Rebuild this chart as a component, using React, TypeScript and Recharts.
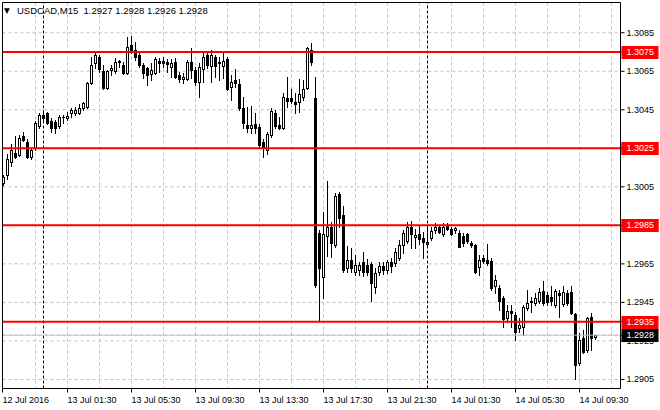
import React from 'react';
import { ComposedChart, Bar, XAxis, YAxis, CartesianGrid, ReferenceLine } from 'recharts';

// USDCAD M15, 12 Jul 21:30 .. 14 Jul 10:30, one entry per bar
const opens = [
  1.30070, 1.30111, 1.30180, 1.30227, 1.30215, 1.30314, 1.30284, 1.30203, 1.30250, 1.30366,
  1.30406, 1.30432, 1.30393, 1.30388, 1.30366, 1.30411, 1.30406, 1.30432, 1.30432, 1.30432,
  1.30457, 1.30463, 1.30587, 1.30691, 1.30725, 1.30653, 1.30561, 1.30656, 1.30651, 1.30699,
  1.30682, 1.30642, 1.30786, 1.30760, 1.30734, 1.30682, 1.30667, 1.30636, 1.30642, 1.30703,
  1.30703, 1.30698, 1.30673, 1.30699, 1.30630, 1.30608, 1.30608, 1.30699, 1.30656, 1.30596,
  1.30660, 1.30734, 1.30677, 1.30725, 1.30691, 1.30677, 1.30712, 1.30567, 1.30604, 1.30584,
  1.30457, 1.30371, 1.30354, 1.30376, 1.30362, 1.30284, 1.30241, 1.30319, 1.30432, 1.30371,
  1.30357, 1.30509, 1.30509, 1.30492, 1.30492, 1.30518, 1.30561, 1.30760, 1.30509, 1.29812,
  1.29583, 1.29794, 1.29843, 1.29748, 1.30013, 1.29903, 1.29628, 1.29670, 1.29608, 1.29618,
  1.29659, 1.29644, 1.29649, 1.29531, 1.29608, 1.29639, 1.29618, 1.29659, 1.29654, 1.29680,
  1.29748, 1.29770, 1.29843, 1.29788, 1.29805, 1.29782, 1.29753, 1.29782, 1.29826, 1.29843,
  1.29805, 1.29846, 1.29832, 1.29826, 1.29812, 1.29794, 1.29805, 1.29760, 1.29748, 1.29635,
  1.29679, 1.29670, 1.29666, 1.29535, 1.29523, 1.29471, 1.29367, 1.29407, 1.29384, 1.29315,
  1.29323, 1.29419, 1.29452, 1.29448, 1.29459, 1.29510, 1.29488, 1.29479, 1.29436, 1.29500,
  1.29441, 1.29500, 1.29505, 1.29390, 1.29134, 1.29263, 1.29203, 1.29372, 1.29270,
];

const highs = [
  1.30111, 1.30220, 1.30272, 1.30314, 1.30319, 1.30336, 1.30297, 1.30250, 1.30392, 1.30432,
  1.30449, 1.30438, 1.30407, 1.30397, 1.30423, 1.30423, 1.30438, 1.30457, 1.30466, 1.30480,
  1.30492, 1.30594, 1.30722, 1.30743, 1.30734, 1.30682, 1.30656, 1.30682, 1.30717, 1.30708,
  1.30699, 1.30829, 1.30833, 1.30803, 1.30743, 1.30691, 1.30673, 1.30691, 1.30722, 1.30717,
  1.30725, 1.30712, 1.30712, 1.30717, 1.30648, 1.30642, 1.30708, 1.30769, 1.30673, 1.30691,
  1.30751, 1.30751, 1.30760, 1.30734, 1.30725, 1.30751, 1.30722, 1.30630, 1.30660, 1.30608,
  1.30515, 1.30466, 1.30469, 1.30432, 1.30376, 1.30298, 1.30334, 1.30457, 1.30449, 1.30414,
  1.30537, 1.30618, 1.30556, 1.30535, 1.30611, 1.30604, 1.30777, 1.30795, 1.30618, 1.29826,
  1.29921, 1.30082, 1.29869, 1.30016, 1.30024, 1.29950, 1.29742, 1.29732, 1.29696, 1.29659,
  1.29711, 1.29675, 1.29659, 1.29628, 1.29659, 1.29659, 1.29670, 1.29680, 1.29732, 1.29774,
  1.29826, 1.29869, 1.29874, 1.29829, 1.29846, 1.29817, 1.29843, 1.29843, 1.29860, 1.29852,
  1.29860, 1.29860, 1.29843, 1.29843, 1.29826, 1.29808, 1.29812, 1.29770, 1.29753, 1.29696,
  1.29696, 1.29753, 1.29680, 1.29592, 1.29540, 1.29483, 1.29436, 1.29436, 1.29401, 1.29367,
  1.29436, 1.29514, 1.29479, 1.29497, 1.29523, 1.29562, 1.29505, 1.29535, 1.29518, 1.29514,
  1.29535, 1.29514, 1.29535, 1.29393, 1.29289, 1.29306, 1.29375, 1.29396, 1.29280,
];

const lows = [
  1.30059, 1.30089, 1.30158, 1.30199, 1.30210, 1.30288, 1.30198, 1.30193, 1.30241, 1.30354,
  1.30397, 1.30376, 1.30336, 1.30331, 1.30354, 1.30380, 1.30397, 1.30414, 1.30423, 1.30428,
  1.30449, 1.30457, 1.30584, 1.30665, 1.30648, 1.30556, 1.30556, 1.30630, 1.30639, 1.30673,
  1.30636, 1.30636, 1.30743, 1.30708, 1.30673, 1.30613, 1.30578, 1.30604, 1.30636, 1.30648,
  1.30673, 1.30648, 1.30622, 1.30613, 1.30596, 1.30587, 1.30604, 1.30613, 1.30578, 1.30518,
  1.30596, 1.30665, 1.30596, 1.30618, 1.30604, 1.30613, 1.30552, 1.30501, 1.30570, 1.30449,
  1.30354, 1.30336, 1.30328, 1.30328, 1.30257, 1.30206, 1.30220, 1.30310, 1.30354, 1.30348,
  1.30348, 1.30463, 1.30487, 1.30435, 1.30440, 1.30501, 1.30556, 1.30682, 1.29530, 1.29355,
  1.29471, 1.29691, 1.29687, 1.29737, 1.29843, 1.29608, 1.29608, 1.29608, 1.29592, 1.29592,
  1.29587, 1.29592, 1.29459, 1.29500, 1.29592, 1.29597, 1.29602, 1.29608, 1.29639, 1.29670,
  1.29706, 1.29757, 1.29730, 1.29730, 1.29753, 1.29679, 1.29742, 1.29774, 1.29808, 1.29808,
  1.29794, 1.29826, 1.29800, 1.29808, 1.29737, 1.29742, 1.29757, 1.29739, 1.29602, 1.29592,
  1.29653, 1.29644, 1.29514, 1.29497, 1.29410, 1.29320, 1.29350, 1.29323, 1.29255, 1.29298,
  1.29280, 1.29410, 1.29401, 1.29436, 1.29445, 1.29436, 1.29436, 1.29436, 1.29427, 1.29375,
  1.29431, 1.29436, 1.29390, 1.29050, 1.29125, 1.29185, 1.29194, 1.29203, 1.29260,
];

const closes = [
  1.30101, 1.30193, 1.30241, 1.30206, 1.30302, 1.30293, 1.30206, 1.30241, 1.30380, 1.30423,
  1.30423, 1.30383, 1.30357, 1.30354, 1.30411, 1.30414, 1.30417, 1.30449, 1.30449, 1.30457,
  1.30483, 1.30590, 1.30682, 1.30734, 1.30660, 1.30561, 1.30653, 1.30667, 1.30699, 1.30703,
  1.30642, 1.30777, 1.30760, 1.30722, 1.30682, 1.30639, 1.30630, 1.30656, 1.30712, 1.30691,
  1.30691, 1.30688, 1.30694, 1.30622, 1.30608, 1.30620, 1.30699, 1.30656, 1.30596, 1.30673,
  1.30725, 1.30682, 1.30734, 1.30677, 1.30699, 1.30703, 1.30556, 1.30596, 1.30590, 1.30457,
  1.30380, 1.30357, 1.30371, 1.30354, 1.30267, 1.30255, 1.30324, 1.30445, 1.30366, 1.30357,
  1.30518, 1.30497, 1.30497, 1.30480, 1.30530, 1.30556, 1.30769, 1.30699, 1.29540, 1.29628,
  1.29805, 1.29843, 1.29757, 1.30002, 1.29886, 1.29618, 1.29670, 1.29628, 1.29644, 1.29644,
  1.29608, 1.29608, 1.29550, 1.29601, 1.29639, 1.29618, 1.29659, 1.29639, 1.29711, 1.29748,
  1.29810, 1.29843, 1.29805, 1.29800, 1.29777, 1.29765, 1.29765, 1.29822, 1.29843, 1.29817,
  1.29843, 1.29832, 1.29805, 1.29834, 1.29739, 1.29760, 1.29770, 1.29748, 1.29609, 1.29670,
  1.29666, 1.29656, 1.29523, 1.29566, 1.29459, 1.29362, 1.29407, 1.29393, 1.29298, 1.29332,
  1.29427, 1.29445, 1.29455, 1.29471, 1.29505, 1.29445, 1.29453, 1.29459, 1.29510, 1.29488,
  1.29505, 1.29445, 1.29393, 1.29125, 1.29255, 1.29194, 1.29367, 1.29263, 1.29280,
];

// one label every 16 bars (4 hours), grid every 8 bars
const timeLabels = [
  '12 Jul 2016', '13 Jul 01:30', '13 Jul 05:30', '13 Jul 09:30', '13 Jul 13:30',
  '13 Jul 17:30', '13 Jul 21:30', '14 Jul 01:30', '14 Jul 05:30', '14 Jul 09:30',
];
const gridBars = [-0.25, 8, 16, 24, 32, 40, 48, 56, 64, 72, 80, 88, 96, 104, 112, 120, 128, 136, 144, 152];
const daySeparators = [10, 106];

const priceTicks = [1.2905, 1.2925, 1.2945, 1.2965, 1.2985, 1.3005, 1.3025, 1.3045, 1.3065, 1.3085];
const levels = [1.3075, 1.3025, 1.2985, 1.2935];
const bid = 1.2928;
const priceDomain = [1.29003, 1.31007];

const title = 'USDCAD,M15  1.2927 1.2928 1.2926 1.2928';

const FONT = "'Liberation Sans', Arial, sans-serif";

const rows = opens.map((o, i) => ({
  i,
  open: o,
  high: highs[i],
  low: lows[i],
  close: closes[i],
  range: [lows[i], highs[i]],
}));

function Candle(props: any) {
  const { x, y, width, height, payload } = props;
  if (!payload || x == null || y == null) return <g />;
  const cx = Math.round(x + width / 2 - 0.5) + 0.5;
  const top = Math.min(y, y + height);
  const h = Math.abs(height);
  const span = payload.high - payload.low;
  const at = (v: number) => Math.round(span ? top + ((payload.high - v) / span) * h : top);
  const yH = at(payload.high);
  const yL = at(payload.low);
  const yO = at(payload.open);
  const yC = at(payload.close);
  const wick = <rect x={cx - 0.5} y={yH} width={1} height={yL - yH + 1} fill="#000" />;
  if (payload.close < payload.open) {
    return (
      <g>
        {wick}
        <rect x={cx - 1.5} y={yO} width={3} height={yC - yO + 1} fill="#000" />
      </g>
    );
  }
  if (yC === yO) {
    return (
      <g>
        {wick}
        <rect x={cx - 1.5} y={yO} width={3} height={1} fill="#000" />
      </g>
    );
  }
  return (
    <g>
      {wick}
      <rect x={cx - 1} y={yC + 0.5} width={2} height={yO - yC} fill="#fff" stroke="#000" />
    </g>
  );
}

function TimeTick(props: any) {
  const { x, y, payload } = props;
  const v = Number(payload.value);
  const idx = v < 0 ? 0 : v / 16;
  if (!Number.isInteger(idx) || !timeLabels[idx]) return <g />;
  const axisY = y - 7;
  return (
    <g>
      <line x1={x} x2={x} y1={axisY} y2={axisY + 4} stroke="#000" />
      <text x={x} y={axisY + 14} fontSize={9} fontFamily={FONT} fill="#000" textAnchor="start">
        {timeLabels[idx]}
      </text>
    </g>
  );
}

function PriceTick(props: any) {
  const { x, y, payload } = props;
  const v = Number(payload.value);
  const cy = Math.round(y);
  const text = v.toFixed(4);
  const boxed = levels.includes(v) || v === bid;
  if (boxed) {
    return (
      <g>
        <rect x={x - 5} y={cy - 6} width={37} height={13} fill={v === bid ? '#000' : '#ff0000'} />
        <text x={x} y={cy} dy="0.35em" fontSize={9} fontFamily={FONT} fill="#fff">{text}</text>
      </g>
    );
  }
  return (
    <text x={x} y={cy} dy="0.35em" fontSize={9} fontFamily={FONT} fill="#000">{text}</text>
  );
}

export default function App() {
  return (
    <div style={{ position: 'absolute', left: 0, top: 0, width: 660, height: 410, background: '#fff' }}>
      <ComposedChart
        width={660}
        height={410}
        data={rows}
        margin={{ top: 2.5, right: 0, bottom: 0, left: 2.5 }}
      >
        <CartesianGrid stroke="#c0c0c0" strokeDasharray="3 3" />
        <XAxis
          type="number"
          dataKey="i"
          domain={[-0.25, 154.25]}
          allowDataOverflow
          ticks={gridBars}
          interval={0}
          height={21.5}
          tickSize={4}
          tickMargin={3}
          tickLine={false}
          axisLine={{ stroke: '#000' }}
          tick={<TimeTick />}
        />
        <YAxis
          orientation="right"
          type="number"
          domain={priceDomain}
          allowDataOverflow
          ticks={[...priceTicks, ...levels, bid]}
          interval={0}
          width={39.5}
          tickSize={4}
          tickMargin={2}
          tickLine={{ stroke: '#000' }}
          axisLine={{ stroke: '#000' }}
          tick={<PriceTick />}
        />
        {daySeparators.map((b) => (
          <ReferenceLine key={b} x={b} stroke="#000" strokeDasharray="3 2" />
        ))}
        <ReferenceLine y={bid} stroke="#c0c0c0" />
        <Bar dataKey="range" shape={<Candle />} barSize={3} isAnimationActive={false} />
        {levels.map((l) => (
          <ReferenceLine key={l} y={l} stroke="#ff0000" strokeWidth={2} />
        ))}
        <ReferenceLine y={priceDomain[1]} stroke="#000" />
        <ReferenceLine x={-0.25} stroke="#000" />
      </ComposedChart>
      <svg width={320} height={20} style={{ position: 'absolute', left: 0, top: 0 }}>
        <text x={4} y={13} fontSize={7.5} fontFamily="'DejaVu Sans', sans-serif" fill="#000">▼</text>
        <text x={17} y={14} fontSize={9.5} fontFamily={FONT} fill="#000" style={{ whiteSpace: 'pre' }}>
          {title}
        </text>
      </svg>
    </div>
  );
}
